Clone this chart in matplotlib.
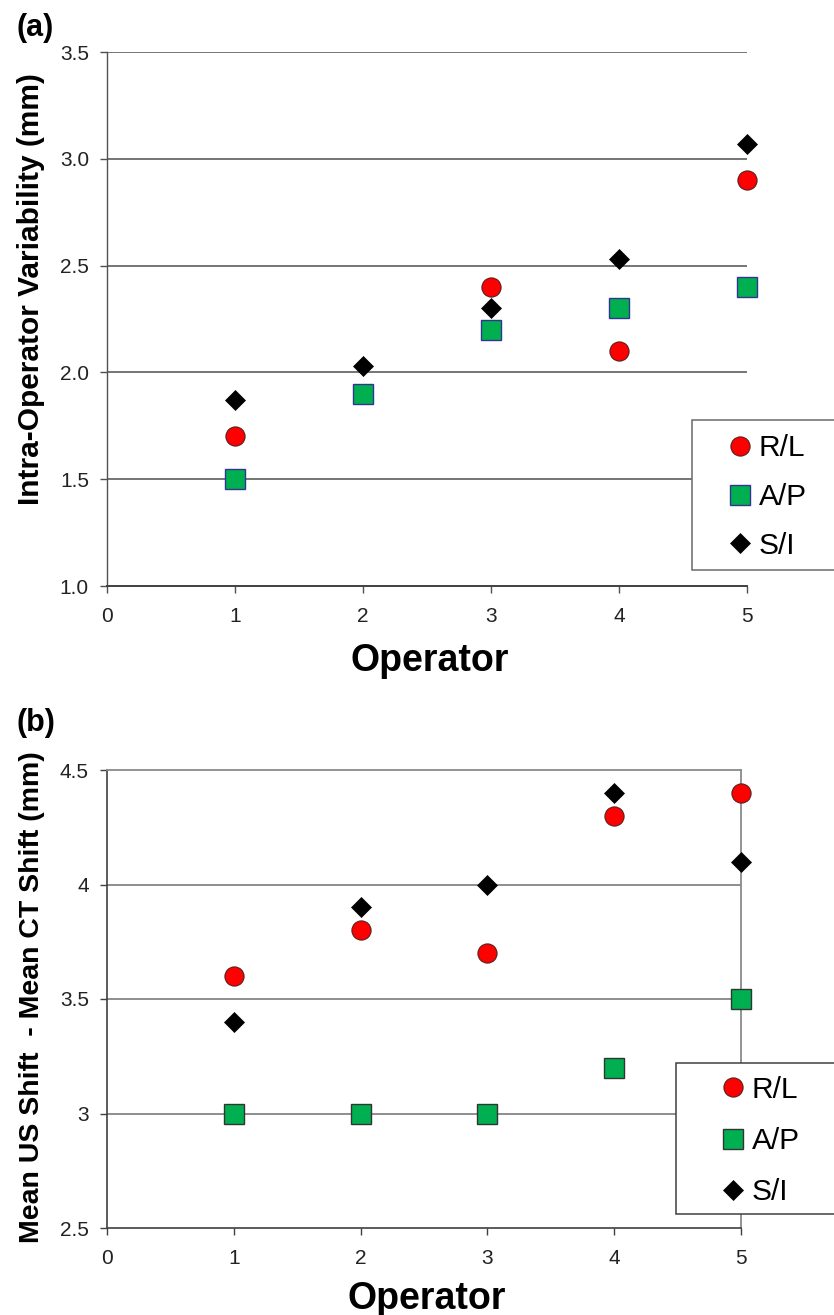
import matplotlib
matplotlib.use("Agg")
import matplotlib.pyplot as plt
from matplotlib.patches import Rectangle
from matplotlib.ticker import FixedLocator, FixedFormatter

plt.rcParams['font.family'] = ['Liberation Sans', 'DejaVu Sans']

# ---------------- data ----------------
operators = [1, 2, 3, 4, 5]
series_names = ['R/L', 'A/P', 'S/I']

a_rl = [1.70, 1.90, 2.40, 2.10, 2.90]
a_ap = [1.50, 1.90, 2.20, 2.30, 2.40]
a_si = [1.87, 2.03, 2.30, 2.53, 3.07]

b_rl = [3.60, 3.80, 3.70, 4.30, 4.40]
b_ap = [3.00, 3.00, 3.00, 3.20, 3.50]
b_si = [3.40, 3.90, 4.00, 4.40, 4.10]

x_ticks = [0, 1, 2, 3, 4, 5]
a_yticks = [1.0, 1.5, 2.0, 2.5, 3.0, 3.5]
a_yticklabels = ['1.0', '1.5', '2.0', '2.5', '3.0', '3.5']
b_yticks = [2.5, 3.0, 3.5, 4.0, 4.5]
b_yticklabels = ['2.5', '3', '3.5', '4', '4.5']

a_ylabel = 'Intra-Operator Variability (mm)'
b_ylabel = 'Mean US Shift  - Mean CT Shift (mm)'
x_label = 'Operator'

# ---------------- figure ----------------
W, H = 834, 1315
fig = plt.figure(figsize=(W / 100, H / 100), dpi=100)

def fx(px):
    return px / W

def fy(py):
    return 1 - py / H

RED = '#FF0000'
GREEN = '#00B050'

ax1 = fig.add_axes([fx(107), fy(586), fx(747) - fx(107), fy(52) - fy(586)])
ax2 = fig.add_axes([fx(107), fy(1228), fx(741) - fx(107), fy(770) - fy(1228)])


def draw_panel(ax, rl, ap, si, yticks, yticklabels, ap_edge):
    h_rl, = ax.plot(operators, rl, ls='none', marker='o', ms=13.8, mfc=RED,
                    mec='#5a2020', mew=0.8, clip_on=False, zorder=4)
    h_ap, = ax.plot(operators, ap, ls='none', marker='s', ms=13.8, mfc=GREEN,
                    mec=ap_edge, mew=1.0, clip_on=False, zorder=5)
    h_si, = ax.plot(operators, si, ls='none', marker='D', ms=9.8, mfc='black',
                    mec='black', mew=0.5, clip_on=False, zorder=6)
    ax.set_xlim(0, 5)
    ax.set_ylim(yticks[0], yticks[-1])
    ax.xaxis.set_major_locator(FixedLocator(x_ticks))
    ax.set_xticklabels([str(v) for v in x_ticks])
    ax.yaxis.set_major_locator(FixedLocator(yticks))
    ax.yaxis.set_major_formatter(FixedFormatter(yticklabels))
    ax.tick_params(axis='both', direction='out', length=5, width=1.0,
                   labelsize=15, labelcolor='#222222')
    ax.tick_params(axis='y', pad=8)
    ax.tick_params(axis='x', pad=10)
    return [h_rl, h_ap, h_si]


# ---- panel (a) ----
handles_a = draw_panel(ax1, a_rl, a_ap, a_si, a_yticks, a_yticklabels, '#2f3590')
for v in a_yticks[1:]:
    ax1.axhline(v, color='#505050', lw=1.1, zorder=1)
ax1.spines['top'].set_visible(False)
ax1.spines['right'].set_visible(False)
ax1.spines['left'].set_color('#505050')
ax1.spines['bottom'].set_color('#404040')
ax1.spines['left'].set_linewidth(1.0)
ax1.spines['bottom'].set_linewidth(1.4)
ax1.tick_params(colors='#505050', labelcolor='#222222')

ax1.set_ylabel(a_ylabel, fontsize=21.5, fontweight='bold')
ax1.yaxis.set_label_coords(-0.118, 0.556)
ax1.yaxis.label.set_va('center')
ax1.set_xlabel(x_label, fontsize=27, fontweight='bold')
ax1.xaxis.set_label_coords(0.505, -0.107)
ax1.xaxis.label.set_va('top')

# ---- panel (b) ----
handles_b = draw_panel(ax2, b_rl, b_ap, b_si, b_yticks, b_yticklabels, '#333333')
for v in b_yticks[1:-1]:
    ax2.axhline(v, color='#707070', lw=1.1, zorder=1)
for s in ['top', 'right']:
    ax2.spines[s].set_color('#8a8a8a')
    ax2.spines[s].set_linewidth(1.3)
for s in ['left', 'bottom']:
    ax2.spines[s].set_color('#404040')
    ax2.spines[s].set_linewidth(1.2)
ax2.tick_params(colors='#404040', labelcolor='#222222')

ax2.set_ylabel(b_ylabel, fontsize=20.5, fontweight='bold')
ax2.yaxis.set_label_coords(-0.118, 0.505)
ax2.yaxis.label.set_va('center')
ax2.set_xlabel(x_label, fontsize=27, fontweight='bold')
ax2.xaxis.set_label_coords(0.505, -0.115)
ax2.xaxis.label.set_va('top')

# ---- legends (frame drawn as rectangle running past the right edge) ----
fig.add_artist(Rectangle((fx(692), fy(570)), 0.5, fy(420) - fy(570),
                         transform=fig.transFigure, facecolor='white',
                         edgecolor='#6a6a6a', lw=1.1, zorder=7))
fig.legend(handles_a, series_names, loc='center left',
           bbox_to_anchor=(fx(728), fy(497)), bbox_transform=fig.transFigure,
           frameon=False, fontsize=21.5, handlelength=0.8, handletextpad=0.22,
           borderpad=0, borderaxespad=0, labelspacing=0.7, numpoints=1
           ).set_zorder(8)

fig.add_artist(Rectangle((fx(676), fy(1214)), 0.5, fy(1063) - fy(1214),
                         transform=fig.transFigure, facecolor='white',
                         edgecolor='#404040', lw=1.1, zorder=7))
fig.legend(handles_b, series_names, loc='center left',
           bbox_to_anchor=(fx(721), fy(1141)), bbox_transform=fig.transFigure,
           frameon=False, fontsize=21.5, handlelength=0.8, handletextpad=0.22,
           borderpad=0, borderaxespad=0, labelspacing=0.78, numpoints=1
           ).set_zorder(8)

# ---- panel labels ----
fig.text(fx(16), fy(13), '(a)', fontsize=22, fontweight='bold', va='top', ha='left')
fig.text(fx(17), fy(708), '(b)', fontsize=22, fontweight='bold', va='top', ha='left')

fig.savefig('out.png', dpi=100)
